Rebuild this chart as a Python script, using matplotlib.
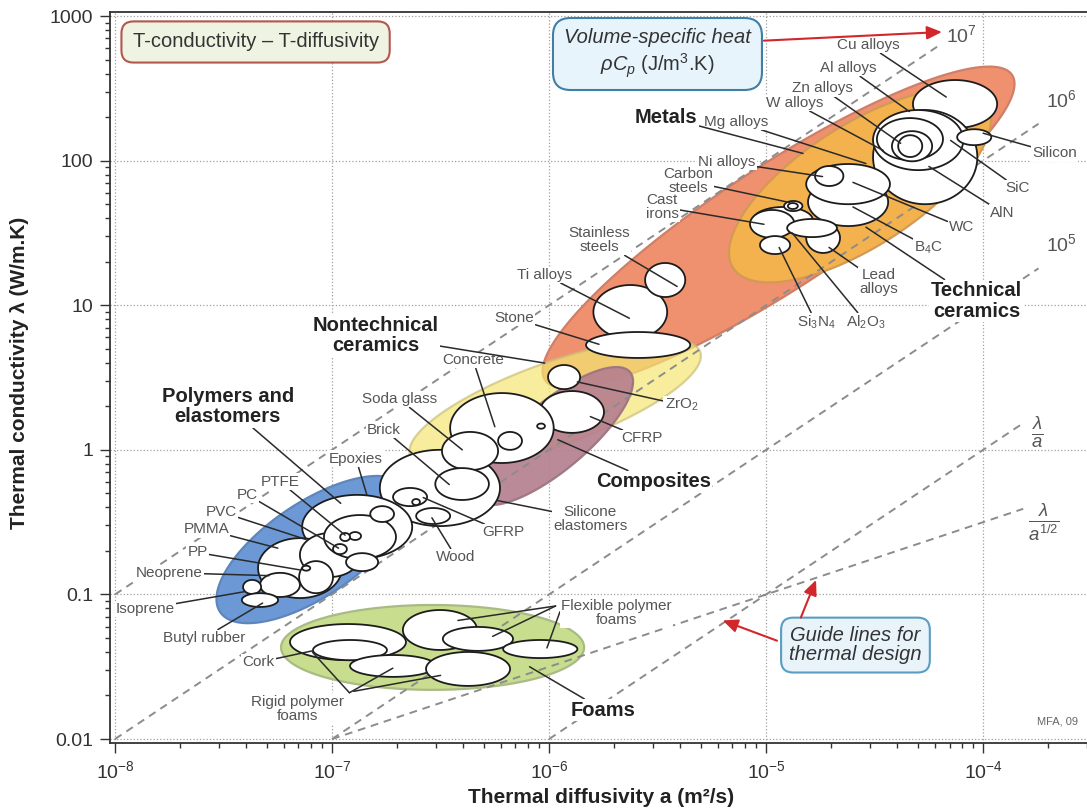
import numpy as np
import matplotlib.pyplot as plt
from matplotlib.patches import FancyBboxPatch
from matplotlib.ticker import FixedLocator, FixedFormatter, NullFormatter

plt.rcParams['font.family'] = ['Liberation Sans', 'DejaVu Sans']
plt.rcParams['mathtext.fontset'] = 'custom'
plt.rcParams['mathtext.rm'] = 'Liberation Sans'
plt.rcParams['mathtext.it'] = 'Liberation Sans:italic'
plt.rcParams['mathtext.bf'] = 'Liberation Sans:bold'

# material bubbles: thermal diffusivity a (m2/s) and conductivity (W/m.K) ranges
# (listed in drawing order, larger bubbles first inside each cluster)
materials = ['Cu alloys', 'AlN', 'Al alloys', 'Zn alloys', 'W alloys', 'Mg alloys',
             'Silicon', 'B4C', 'WC', 'Ni alloys', 'Carbon steels', 'Cast irons',
             'Lead alloys', 'Al2O3', 'Si3N4', 'Steel 2', 'Steel 3',
             'Stainless steels', 'Ti alloys', 'Stone', 'CFRP', 'ZrO2',
             'Silicone elastomers', 'Concrete', 'Concrete 2', 'Concrete 3',
             'Soda glass', 'Brick', 'GFRP', 'GFRP 2', 'Wood',
             'Epoxies', 'PVC', 'PMMA', 'PTFE', 'PTFE 2', 'PS', 'PP 2',
             'Neoprene', 'Isoprene', 'Butyl rubber', 'PC', 'PTFE 3', 'PTFE 4', 'PP',
             'Cork', 'Flexible foam 1', 'Rigid foam 1', 'Rigid foam 2', 'Rigid foam 3',
             'Flexible foam 2', 'Flexible foam 3']
a_lo = [4.75e-5, 3.11e-5, 3.11e-5, 3.24e-5, 3.80e-5, 4.06e-5,
        7.59e-5, 1.56e-5, 1.53e-5, 1.68e-5, 8.71e-6, 8.43e-6,
        1.53e-5, 1.25e-5, 9.37e-6, 1.21e-5, 1.26e-5,
        1.60e-6, 2.77e-6, 1.48e-6, 9.07e-7, 9.89e-7,
        1.66e-7, 3.50e-7, 5.82e-7, 8.81e-7,
        3.21e-7, 2.99e-7, 1.91e-7, 2.34e-7, 2.44e-7,
        7.28e-8, 4.56e-8, 7.11e-8, 9.18e-8, 1.50e-7, 1.16e-7, 7.05e-8,
        4.66e-8, 3.89e-8, 3.84e-8, 1.01e-7, 1.20e-7, 1.09e-7, 7.28e-8,
        6.40e-8, 2.12e-7, 8.17e-8, 1.21e-7, 2.71e-7,
        3.24e-7, 6.14e-7]
a_hi = [1.16e-4, 9.40e-5, 8.10e-5, 6.53e-5, 5.82e-5, 5.24e-5,
        1.09e-4, 3.65e-5, 3.72e-5, 2.27e-5, 1.64e-5, 1.35e-5,
        2.19e-5, 2.12e-5, 1.29e-5, 1.47e-5, 1.40e-5,
        3.50e-6, 4.24e-6, 4.47e-6, 1.79e-6, 1.39e-6,
        5.94e-7, 1.05e-6, 7.50e-7, 9.57e-7,
        5.82e-7, 5.28e-7, 2.74e-7, 2.54e-7, 3.50e-7,
        2.34e-7, 1.11e-7, 1.35e-7, 1.97e-7, 1.93e-7, 1.63e-7, 1.01e-7,
        7.11e-8, 4.71e-8, 5.64e-8, 1.17e-7, 1.36e-7, 1.21e-7, 7.93e-8,
        2.19e-7, 4.66e-7, 1.79e-7, 3.01e-7, 6.61e-7,
        6.82e-7, 1.35e-6]
k_lo = [168, 50, 86, 101, 99, 106,
        128, 35.3, 50, 66.8, 31.6, 29.2,
        23.0, 29.6, 22.6, 44.8, 46.3,
        5.84, 11.4, 4.32, 1.31, 2.63,
        0.297, 0.811, 1.0, 1.40,
        0.724, 0.450, 0.408, 0.415, 0.307,
        0.176, 0.0944, 0.132, 0.176, 0.317, 0.145, 0.102,
        0.0960, 0.1007, 0.0819, 0.190, 0.238, 0.234, 0.146,
        0.0351, 0.0413, 0.0351, 0.0269, 0.0233,
        0.0407, 0.0363]
k_hi = [361, 224, 224, 197, 160, 150,
        165, 75.8, 94.8, 91.8, 47.8, 45.6,
        37.1, 39.5, 30.1, 52.6, 50.9,
        13.8, 19.6, 6.53, 2.55, 3.86,
        1.0, 2.47, 1.33, 1.52,
        1.33, 0.748, 0.545, 0.457, 0.396,
        0.488, 0.245, 0.266, 0.354, 0.408, 0.193, 0.170,
        0.141, 0.126, 0.102, 0.223, 0.270, 0.266, 0.158,
        0.0624, 0.0780, 0.0484, 0.0381, 0.0400,
        0.0596, 0.0484]

# family envelopes: the two tips of the long axis and width/length ratio
env_names = ['Metals', 'Technical ceramics', 'Nontechnical ceramics',
             'Composites', 'Polymers and elastomers', 'Foams']
env_a1 = [9.57e-7, 7.05e-6, 2.29e-7, 4.71e-7, 3.05e-8, 5.82e-8]
env_k1 = [3.04, 18.1, 0.92, 0.45, 0.0755, 0.043]
env_a2 = [1.36e-4, 1.04e-4, 4.97e-6, 2.36e-6, 2.17e-7, 1.45e-6]
env_k2 = [391, 247, 4.75, 3.45, 0.553, 0.043]
env_ratio = [0.22, 0.40, 0.27, 0.34, 0.42, 0.28]

# guide lines: lambda = rhoCp * a, and lambda = C * a^(1/2)
rho_cp = [1e7, 1e6, 1e5, 1e4]
guide_a0 = [1e-8, 1e-8, 1e-7, 1e-6]
guide_a1 = [6.3e-5, 1.8e-4, 1.8e-4, 1.53e-4]
root_coeff = 31.6
root_a = [1e-7, 1.53e-4]

env_face = ['#ef916f', '#f4b24e', '#f4e673', '#b6808f', '#6c99d6', '#c8dd8d']
env_edge = ['#cf7f68', '#d39a55', '#cbbf78', '#9c7380', '#5d86bd', '#a9bb85']
env_alpha = [1.0, 1.0, 0.7, 0.92, 1.0, 1.0]

fig = plt.figure(figsize=(10.87, 8.11), dpi=100)
ax = fig.add_axes([0.1012, 0.0838, 0.8988, 0.9014])
ax.set_xscale('log')
ax.set_yscale('log')
ax.set_xlim(9.48e-9, 3.01e-4)
ax.set_ylim(9.38e-3, 1067)

ax.set_axisbelow(True)
ax.grid(True, which='major', ls=':', color='#a0a0a0', lw=0.9)

theta = np.linspace(0, 2 * np.pi, 241)


def envelope(p1, p2, ratio, fc, ec, alpha):
    # ellipse built in screen space so it keeps its tilt on the log axes
    t = ax.transData
    (x1, y1), (x2, y2) = t.transform([p1, p2])
    cx, cy = (x1 + x2) / 2, (y1 + y2) / 2
    half = np.hypot(x2 - x1, y2 - y1) / 2
    ang = np.arctan2(y2 - y1, x2 - x1)
    u = half * np.cos(theta)
    v = ratio * half * np.sin(theta)
    xs = cx + u * np.cos(ang) - v * np.sin(ang)
    ys = cy + u * np.sin(ang) + v * np.cos(ang)
    pts = t.inverted().transform(np.column_stack([xs, ys]))
    ax.fill(pts[:, 0], pts[:, 1], fc=fc, ec=ec, lw=1.6, alpha=alpha, zorder=2)


for i in range(len(env_names)):
    envelope((env_a1[i], env_k1[i]), (env_a2[i], env_k2[i]), env_ratio[i],
             env_face[i], env_edge[i], env_alpha[i])

for c, a0, a1 in zip(rho_cp, guide_a0, guide_a1):
    ax.plot([a0, a1], [c * a0, c * a1], ls=(0, (4, 3)), color='#8c8c8c', lw=1.4, zorder=2.5)
ax.plot(root_a, [root_coeff * np.sqrt(a) for a in root_a],
        ls=(0, (4, 3)), color='#8c8c8c', lw=1.4, zorder=2.5)

for lo, hi, klo, khi in zip(a_lo, a_hi, k_lo, k_hi):
    ca, ra = (np.log10(lo) + np.log10(hi)) / 2, (np.log10(hi) - np.log10(lo)) / 2
    ck, rk = (np.log10(klo) + np.log10(khi)) / 2, (np.log10(khi) - np.log10(klo)) / 2
    ax.fill(10 ** (ca + ra * np.cos(theta)), 10 ** (ck + rk * np.sin(theta)),
            fc='white', ec='#1c1c1c', lw=1.3, zorder=3)

# labels: text, text position and leader end, both as (log a, log lambda)
gray_labels = [
    ('Cu alloys', (-4.53, 2.80), (-4.17, 2.44)),
    ('Al alloys', (-4.62, 2.64), (-4.34, 2.34)),
    ('Zn alloys', (-4.74, 2.50), (-4.38, 2.12)),
    ('W alloys', (-4.87, 2.40), (-4.46, 2.07)),
    ('Mg alloys', (-5.14, 2.27), (-4.54, 1.98)),
    ('Ni alloys', (-5.18, 1.99), (-4.74, 1.89)),
    ('Carbon\nsteels', (-5.36, 1.86), (-4.89, 1.71)),
    ('Cast\nirons', (-5.48, 1.68), (-5.01, 1.56)),
    ('Stainless\nsteels', (-5.77, 1.45), (-5.41, 1.13)),
    ('Ti alloys', (-6.02, 1.21), (-5.63, 0.91)),
    ('Stone', (-6.16, 0.91), (-5.77, 0.73)),
    ('Concrete', (-6.35, 0.62), (-6.25, 0.16)),
    ('Soda glass', (-6.69, 0.35), (-6.40, 0.00)),
    ('Brick', (-6.76, 0.14), (-6.46, -0.24)),
    ('Epoxies', (-6.89, -0.06), (-6.84, -0.31)),
    ('PTFE', (-7.24, -0.22), (-6.94, -0.59)),
    ('PC', (-7.39, -0.31), (-6.97, -0.68)),
    ('PVC', (-7.51, -0.43), (-7.12, -0.62)),
    ('PMMA', (-7.58, -0.55), (-7.25, -0.68)),
    ('PP', (-7.62, -0.71), (-7.15, -0.83)),
    ('Neoprene', (-7.75, -0.85), (-7.29, -0.87)),
    ('Isoprene', (-7.86, -1.10), (-7.40, -0.98)),
    ('Butyl rubber', (-7.59, -1.30), (-7.32, -1.06)),
    ('Cork', (-7.34, -1.47), (-7.09, -1.39)),
    ('CFRP', (-5.57, 0.08), (-5.81, 0.23)),
    ('ZrO$_2$', (-5.39, 0.31), (-5.87, 0.47)),
    ('Silicone\nelastomers', (-5.81, -0.48), (-6.24, -0.35)),
    ('GFRP', (-6.21, -0.57), (-6.58, -0.33)),
    ('Wood', (-6.43, -0.74), (-6.54, -0.47)),
    ('Silicon', (-3.67, 2.05), (-4.00, 2.19)),
    ('SiC', (-3.84, 1.81), (-4.15, 2.14)),
    ('AlN', (-3.91, 1.64), (-4.25, 1.96)),
    ('WC', (-4.10, 1.54), (-4.60, 1.85)),
    ('B$_4$C', (-4.25, 1.40), (-4.60, 1.68)),
    ('Lead\nalloys', (-4.48, 1.16), (-4.71, 1.40)),
    ('Si$_3$N$_4$', (-4.77, 0.88), (-4.94, 1.40)),
    ('Al$_2$O$_3$', (-4.54, 0.88), (-4.88, 1.50)),
]
bold_labels = [
    ('Metals', (-5.46, 2.30), (-4.83, 2.05)),
    ('Technical\nceramics', (-4.03, 1.03), (-4.54, 1.54)),
    ('Nontechnical\nceramics', (-6.80, 0.79), (-6.02, 0.60)),
    ('Polymers and\nelastomers', (-7.48, 0.30), (-6.96, -0.37)),
    ('Composites', (-5.52, -0.22), (-5.96, 0.07)),
    ('Foams', (-5.75, -1.80), (-6.09, -1.50)),
]
# labels served by several leaders
multi_labels = [
    ('Rigid polymer\nfoams', (-7.16, -1.79),
     [((-6.92, -1.68), (-7.09, -1.40)), ((-6.92, -1.68), (-6.72, -1.51)),
      ((-6.90, -1.67), (-6.50, -1.56))]),
    ('Flexible polymer\nfoams', (-5.69, -1.13),
     [((-5.97, -1.08), (-6.42, -1.18)), ((-5.97, -1.08), (-6.26, -1.29)),
      ((-5.95, -1.12), (-6.01, -1.37))]),
]

lead = dict(arrowstyle='-', color='#2a2a2a', lw=1.1, shrinkA=0, shrinkB=0)
white = dict(boxstyle='square,pad=0.08', fc='white', ec='none')


def p(xy):
    return (10 ** xy[0], 10 ** xy[1])


for txt, pos, end in gray_labels:
    ax.annotate(txt, xy=p(end), xytext=p(pos), ha='center', va='center', ma='center',
                fontsize=11, color='#555555', linespacing=1.0, bbox=white,
                arrowprops=lead, zorder=7)
for txt, pos, end in bold_labels:
    ax.annotate(txt, xy=p(end), xytext=p(pos), ha='center', va='center', ma='center',
                fontsize=14.5, fontweight='bold', color='#222222', linespacing=1.1,
                bbox=white, arrowprops=lead, zorder=7)
for txt, pos, legs in multi_labels:
    ax.text(*p(pos), txt, ha='center', va='center', ma='center', fontsize=11,
            color='#555555', linespacing=1.0, bbox=white, zorder=7)
    for s, e in legs:
        ax.annotate('', xy=p(e), xytext=p(s), arrowprops=lead, zorder=6)

# guide line labels
guide_txt = dict(ha='center', va='center', color='#555555', zorder=7)
ax.text(*p((-4.10, 2.87)), '10$^7$', fontsize=14, **guide_txt)
ax.text(*p((-3.64, 2.42)), '10$^6$', fontsize=14, **guide_txt)
ax.text(*p((-3.64, 1.42)), '10$^5$', fontsize=14, **guide_txt)
ax.text(*p((-3.75, 0.12)), r'$\frac{\lambda}{a}$', fontsize=19, **guide_txt)
ax.text(*p((-3.72, -0.50)), r'$\frac{\lambda}{a^{1/2}}$', fontsize=19, **guide_txt)

# title box
ax.text(0.149, 0.959, 'T-conductivity \u2013 T-diffusivity', transform=ax.transAxes,
        ha='center', va='center', fontsize=14.5, color='#333333', zorder=8,
        bbox=dict(boxstyle='round,pad=0.55,rounding_size=0.6', fc='#eef3e2',
                  ec='#b4564b', lw=1.5))

# volume-specific heat box and arrow
ax.add_patch(FancyBboxPatch((0.4534, 0.8933), 0.2139, 0.0985, transform=ax.transAxes,
                            boxstyle='round,pad=0,rounding_size=0.018',
                            mutation_aspect=1.337, fc='#e8f4fb', ec='#3f7fa6',
                            lw=1.5, zorder=8))
ax.text(0.560, 0.9645, 'Volume-specific heat', transform=ax.transAxes, ha='center',
        va='center', fontsize=14.5, style='italic', color='#333333', zorder=9)
ax.text(0.560, 0.926, r'$\rho C_p$ (J/m$^3$.K)', transform=ax.transAxes, ha='center',
        va='center', fontsize=14.5, color='#333333', zorder=9)

red = dict(arrowstyle='-|>,head_length=0.9,head_width=0.4', color='#d3262b', lw=1.5,
           shrinkA=0, shrinkB=0)
ax.annotate('', xy=p((-4.19, 2.89)), xytext=p((-5.01, 2.83)), arrowprops=red, zorder=8)

# guide lines note
ax.text(0.763, 0.134, 'Guide lines for\nthermal design', transform=ax.transAxes,
        ha='center', va='center', fontsize=14.5, style='italic', color='#333333',
        linespacing=1.05, zorder=8,
        bbox=dict(boxstyle='round,pad=0.4,rounding_size=0.6', fc='#e8f4fa',
                  ec='#5b9cc2', lw=1.5))
ax.annotate('', xy=p((-5.20, -1.18)), xytext=p((-4.95, -1.32)), arrowprops=red, zorder=8)
ax.annotate('', xy=p((-4.77, -0.90)), xytext=p((-4.84, -1.16)), arrowprops=red, zorder=8)

ax.text(0.991, 0.029, 'MFA, 09', transform=ax.transAxes, ha='right', va='center',
        fontsize=8, color='#666666')

# axes styling
ax.yaxis.set_major_locator(FixedLocator([0.01, 0.1, 1, 10, 100, 1000]))
ax.yaxis.set_major_formatter(FixedFormatter(['0.01', '0.1', '1', '10', '100', '1000']))
ax.yaxis.set_minor_formatter(NullFormatter())
ax.xaxis.set_minor_formatter(NullFormatter())
ax.tick_params(which='both', direction='out', top=False, right=False,
               colors='#333333', labelsize=14, width=1)
ax.tick_params(which='major', length=7, pad=5)
ax.tick_params(which='minor', length=3.5)
ax.spines['right'].set_visible(False)
for s in ('left', 'top', 'bottom'):
    ax.spines[s].set_color('#333333')
    ax.spines[s].set_linewidth(1.3)

ax.set_ylabel('Thermal conductivity \u03bb (W/m.K)', fontsize=15, fontweight='bold',
              color='#222222')
ax.yaxis.set_label_coords(-0.083, 0.506)
ax.set_xlabel('Thermal diffusivity a (m\u00b2/s)', fontsize=15, fontweight='bold',
              color='#222222')
ax.xaxis.set_label_coords(0.5026, -0.062)

fig.savefig('out.png', dpi=100)
